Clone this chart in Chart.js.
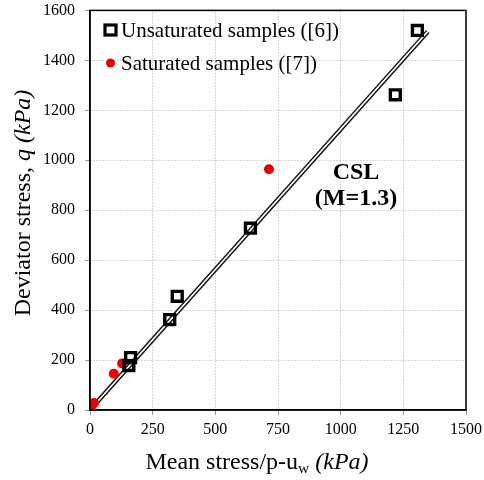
<!DOCTYPE html>
<html>
<head>
<meta charset="utf-8">
<script src="https://cdn.jsdelivr.net/npm/chart.js@4.4.0/dist/chart.umd.min.js"></script>
<style>
  html, body { margin: 0; padding: 0; background: #fff; }
  #wrap { width: 484px; height: 480px; }
</style>
</head>
<body>
<div id="wrap"><canvas id="csl"></canvas></div>
<script>
// unsaturated samples ([6])
var unsatP = [155, 162, 318, 348, 640, 1218, 1306];
var unsatQ = [178, 210, 362, 455, 728, 1262, 1520];
// saturated samples ([7])
var satP = [7, 16, 95, 128, 714];
var satQ = [18, 28, 145, 186, 964];
// critical state line end points
var cslP = [0, 1348];
var cslQ = [0, 1516];

var xTicks = [0, 250, 500, 750, 1000, 1250, 1500];
var yTicks = [0, 200, 400, 600, 800, 1000, 1200, 1400, 1600];

function pts(xs, ys) {
  return xs.map(function (x, i) { return { x: x, y: ys[i] }; });
}

var serif = '"Liberation Serif", "Times New Roman", serif';

// text pieces: [text, italic, subscript]
function drawRich(ctx, parts, size) {
  var total = 0;
  parts.forEach(function (p) {
    ctx.font = (p[1] ? 'italic ' : '') + (p[2] ? size * 0.65 : size) + 'px ' + serif;
    p.w = ctx.measureText(p[0]).width;
    total += p.w;
  });
  var x = -total / 2;
  parts.forEach(function (p) {
    ctx.font = (p[1] ? 'italic ' : '') + (p[2] ? size * 0.65 : size) + 'px ' + serif;
    ctx.fillText(p[0], x, p[2] ? size * 0.25 : 0);
    x += p.w;
  });
}

var decor = {
  id: 'decor',
  afterDraw: function (chart) {
    var ctx = chart.ctx, a = chart.chartArea;
    ctx.save();
    // frame
    ctx.strokeStyle = '#000';
    ctx.lineWidth = 1.5;
    ctx.strokeRect(a.left, a.top, a.right - a.left, a.bottom - a.top);

    ctx.fillStyle = '#000';
    ctx.textBaseline = 'middle';
    ctx.textAlign = 'left';

    // legend
    ctx.font = '21px ' + serif;
    ctx.lineWidth = 3.2;
    ctx.fillStyle = '#fff';
    ctx.fillRect(105, 25, 11, 10);
    ctx.strokeRect(105, 25, 11, 10);
    ctx.fillStyle = '#000';
    ctx.fillText('Unsaturated samples ([6])', 121, 31);
    ctx.fillStyle = '#ee0000';
    ctx.beginPath();
    ctx.arc(110.5, 63, 4.5, 0, Math.PI * 2);
    ctx.fill();
    ctx.fillStyle = '#000';
    ctx.fillText('Saturated samples ([7])', 121, 64);

    // CSL label
    ctx.textAlign = 'center';
    ctx.font = 'bold 24px ' + serif;
    ctx.fillText('CSL', 356, 173);
    ctx.fillText('(M=1.3)', 356, 199);

    // x title
    ctx.textAlign = 'left';
    ctx.save();
    ctx.translate(257, 463);
    drawRich(ctx, [['Mean stress/p-u', false, false], ['w', false, true], [' (kPa)', true, false]], 24);
    ctx.restore();

    // y title
    ctx.save();
    ctx.translate(24, 203);
    ctx.rotate(-Math.PI / 2);
    drawRich(ctx, [['Deviator stress, ', false, false], ['q', true, false], [' (kPa)', true, false]], 24);
    ctx.restore();

    ctx.restore();
  }
};

function plain(v) { return String(v); }

new Chart(document.getElementById('csl'), {
  type: 'scatter',
  data: {
    datasets: [
      {
        label: 'CSL outer',
        data: pts(cslP, cslQ),
        showLine: true,
        borderColor: '#111',
        borderWidth: 4.5,
        pointRadius: 0,
        order: 4
      },
      {
        label: 'CSL inner',
        data: pts(cslP, cslQ),
        showLine: true,
        borderColor: '#fff',
        borderWidth: 1.6,
        pointRadius: 0,
        order: 3
      },
      {
        label: 'Saturated samples ([7])',
        data: pts(satP, satQ),
        pointStyle: 'circle',
        pointRadius: 5,
        backgroundColor: '#ee0000',
        borderColor: '#ee0000',
        borderWidth: 0,
        order: 2
      },
      {
        label: 'Unsaturated samples ([6])',
        data: pts(unsatP, unsatQ),
        pointStyle: 'rect',
        pointRadius: 7,
        backgroundColor: 'rgba(255,255,255,0)',
        borderColor: '#000',
        borderWidth: 3.4,
        order: 1
      }
    ]
  },
  options: {
    responsive: true,
    maintainAspectRatio: false,
    animation: false,
    layout: { padding: { top: 10, right: 18, left: 0, bottom: 0 } },
    plugins: {
      legend: { display: false },
      tooltip: { enabled: false }
    },
    scales: {
      x: {
        type: 'linear',
        min: 0,
        max: 1500,
        afterBuildTicks: function (s) { s.ticks = xTicks.map(function (v) { return { value: v }; }); },
        afterFit: function (s) { s.height = 70; s.paddingLeft = 0; s.paddingRight = 0; },
        ticks: {
          color: '#000',
          font: { family: serif, size: 16 },
          padding: 5,
          maxRotation: 0,
          callback: plain
        },
        grid: { color: '#b0b0b0', lineWidth: 1, tickLength: 5, tickColor: '#999' },
        border: { color: '#000', width: 1.5, dash: [1, 2] }
      },
      y: {
        type: 'linear',
        min: 0,
        max: 1600,
        afterBuildTicks: function (s) { s.ticks = yTicks.map(function (v) { return { value: v }; }); },
        afterFit: function (s) { s.width = 90; s.paddingTop = 0; s.paddingBottom = 0; },
        ticks: {
          color: '#000',
          font: { family: serif, size: 16 },
          padding: 10,
          callback: plain
        },
        grid: { color: '#b0b0b0', lineWidth: 1, tickLength: 5, tickColor: '#999' },
        border: { color: '#000', width: 1.5, dash: [1, 2] }
      }
    }
  },
  plugins: [decor]
});
</script>
</body>
</html>
